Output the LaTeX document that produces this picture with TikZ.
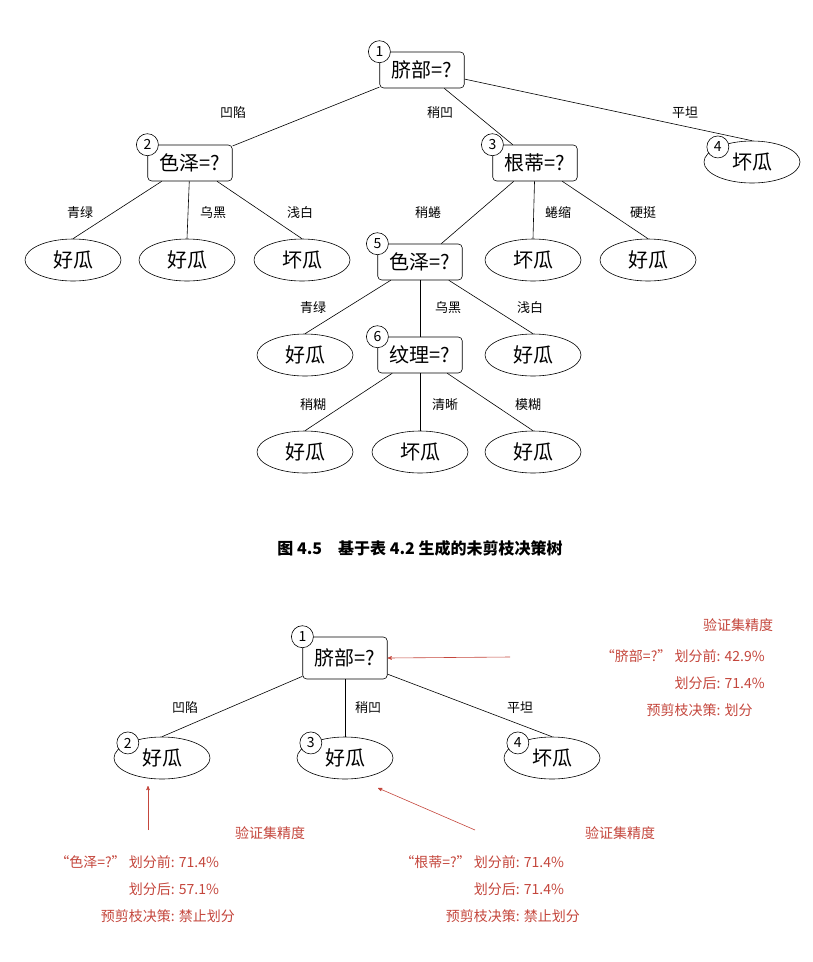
\documentclass[tikz,border=0pt]{standalone}
\usepackage{fontspec}
\setmainfont{Noto Sans CJK SC}
\usetikzlibrary{arrows,shapes.geometric}
\definecolor{notered}{RGB}{196,70,60}
\begin{document}
\begin{tikzpicture}[x=1pt,y=-1pt,>=stealth',semithick]
  \tikzstyle{box}=[draw,rounded corners=4pt,fill=white,font=\fontsize{20}{20}\selectfont,minimum height=36pt,inner xsep=12pt]
  \tikzstyle{leaf}=[draw,ellipse,font=\fontsize{20}{20}\selectfont,minimum width=96pt,minimum height=42pt,inner sep=1pt]
  \tikzstyle{num}=[draw,circle,fill=white,font=\fontsize{14}{14}\selectfont,inner sep=1pt,minimum size=22pt]
  \tikzstyle{lbl}=[font=\fontsize{13}{13}\selectfont,fill=white,inner sep=1pt]
  \tikzstyle{note}=[text=notered,font=\fontsize{14}{27}\selectfont]
  \useasboundingbox (0,0) rectangle (812,962);
  % unpruned tree
  \node [box] (r) at (422,70) {脐部=?};
  \node [box] (a2) at (190,163) {色泽=?};
  \node [box] (a3) at (535,163) {根蒂=?};
  \node [leaf] (a4) at (752,162) {坏瓜};
  \node [leaf] (b1) at (73,260) {好瓜};
  \node [leaf] (b2) at (187,260) {好瓜};
  \node [leaf] (b3) at (302,260) {坏瓜};
  \node [box] (a5) at (420,262) {色泽=?};
  \node [leaf] (b4) at (533,260) {坏瓜};
  \node [leaf] (b5) at (648,260) {好瓜};
  \node [leaf] (c1) at (305,355) {好瓜};
  \node [box] (a6) at (420,355) {纹理=?};
  \node [leaf] (c2) at (533,355) {好瓜};
  \node [leaf] (d1) at (305,452) {好瓜};
  \node [leaf] (d2) at (420,452) {坏瓜};
  \node [leaf] (d3) at (533,452) {好瓜};
  \draw (r) -- (a2);
  \draw (r) -- (a3);
  \draw (r) -- (a4.north);
  \draw (a2) -- (b1.north);
  \draw (a2) -- (b2.north);
  \draw (a2) -- (b3.north);
  \draw (a3) -- (a5);
  \draw (a3) -- (b4.north);
  \draw (a3) -- (b5.north);
  \draw (a5) -- (c1.north);
  \draw (a5) -- (a6);
  \draw (a5) -- (c2.north);
  \draw (a6) -- (d1.north);
  \draw (a6) -- (d2.north);
  \draw (a6) -- (d3.north);
  \node [num] (n1) at (r.north west) {1};
  \node [num] (n2) at (a2.north west) {2};
  \node [num] (n3) at (a3.north west) {3};
  \node [num] (n4) at (a4.north west) {4};
  \node [num] (n5) at (a5.north west) {5};
  \node [num] (n6) at (a6.north west) {6};
  \node [lbl] at (233,113) {凹陷};
  \node [lbl] at (440,113) {稍凹};
  \node [lbl] at (685,113) {平坦};
  \node [lbl] at (80,213) {青绿};
  \node [lbl] at (213,213) {乌黑};
  \node [lbl] at (300,213) {浅白};
  \node [lbl] at (428,213) {稍蜷};
  \node [lbl] at (558,213) {蜷缩};
  \node [lbl] at (643,213) {硬挺};
  \node [lbl] at (313,308) {青绿};
  \node [lbl] at (448,308) {乌黑};
  \node [lbl] at (530,308) {浅白};
  \node [lbl] at (313,405) {稍糊};
  \node [lbl] at (445,405) {清晰};
  \node [lbl] at (528,405) {模糊};
  \node [font=\fontsize{16}{16}\selectfont\bfseries] (cap) at (420,548) {图 4.5\quad 基于表 4.2 生成的未剪枝决策树};
  % pruned tree
  \node [box,minimum height=42pt] (p) at (345,658) {脐部=?};
  \node [leaf] (q2) at (162,758) {好瓜};
  \node [leaf] (q3) at (345,758) {好瓜};
  \node [leaf] (q4) at (552,758) {坏瓜};
  \draw (p) -- (q2.north);
  \draw (p) -- (q3.north);
  \draw (p) -- (q4.north);
  \node [num] (m1) at (p.north west) {1};
  \node [num] (m2) at (q2.north west) {2};
  \node [num] (m3) at (q3.north west) {3};
  \node [num] (m4) at (q4.north west) {4};
  \node [lbl] at (185,708) {凹陷};
  \node [lbl] at (368,708) {稍凹};
  \node [lbl] at (520,708) {平坦};
  % validation notes
  \node [note] (t1) at (738,625) {验证集精度};
  \node [note,anchor=north east,inner sep=0pt] (s1) at (765,642) {\begin{tabular}{@{}r@{: }l@{}}“脐部=?”\ 划分前&42.9\%\\划分后&71.4\%\\预剪枝决策&划分\end{tabular}};
  \node [note] (t2) at (270,833) {验证集精度};
  \node [note,anchor=north west,inner sep=0pt] (s2) at (55,848) {\begin{tabular}{@{}r@{: }l@{}}“色泽=?”\ 划分前&71.4\%\\划分后&57.1\%\\预剪枝决策&禁止划分\end{tabular}};
  \node [note] (t3) at (620,833) {验证集精度};
  \node [note,anchor=north west,inner sep=0pt] (s3) at (400,848) {\begin{tabular}{@{}r@{: }l@{}}“根蒂=?”\ 划分前&71.4\%\\划分后&71.4\%\\预剪枝决策&禁止划分\end{tabular}};
  \coordinate (e1) at (510,657);
  \coordinate (e2) at (148,830);
  \coordinate (e3) at (475,830);
  \coordinate (f2) at (148,786);
  \coordinate (f3) at (378,788);
  \draw [->,notered] (e1) -- (p.east);
  \draw [->,notered] (e2) -- (f2);
  \draw [->,notered] (e3) -- (f3);
\end{tikzpicture}
\end{document}
